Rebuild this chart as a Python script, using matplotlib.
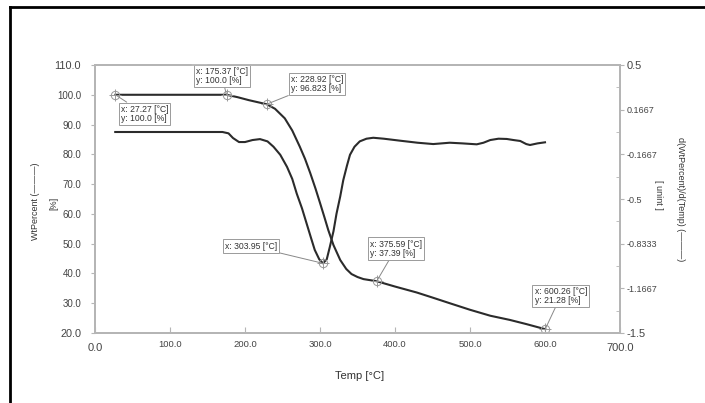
import matplotlib.pyplot as plt
from matplotlib.lines import Line2D

plt.rcParams['font.family'] = ['Liberation Sans', 'DejaVu Sans']

# weight percent curve (left axis)
tg_temp = [27.27, 100, 175.37, 190, 205, 228.92, 240, 253, 263, 273, 280, 287, 294,
           300, 306, 311, 318, 327, 335, 342, 350, 358, 375.59, 400, 429, 450, 473,
           500, 527, 553, 575, 600.26]
tg_wt = [100, 100, 100, 99.2, 98.2, 96.823, 95.3, 92.1, 88.0, 82.6, 78.5, 73.7, 68.5,
         63.7, 58.8, 54.6, 49.5, 44.5, 41.5, 39.8, 38.8, 38.1, 37.39, 35.6, 33.6, 31.9,
         30.0, 27.8, 25.8, 24.4, 23.0, 21.28]

# derivative curve (right axis)
dtg_temp = [27, 100, 170, 178, 184, 192, 200, 210, 220, 230, 238, 247, 256, 263, 269,
            276, 282, 288, 293, 299, 303.95, 309, 313, 318, 322, 327, 331, 336, 340,
            346, 353, 362, 371, 385, 407, 430, 451, 473, 490, 509, 518, 527, 538, 549,
            558, 567, 575, 580, 590, 600]
dtg_val = [0, 0, 0, -0.01, -0.045, -0.075, -0.075, -0.06, -0.053, -0.07, -0.11, -0.17,
           -0.26, -0.35, -0.46, -0.57, -0.68, -0.79, -0.88, -0.95, -0.98, -0.95, -0.86,
           -0.74, -0.61, -0.48, -0.36, -0.25, -0.17, -0.11, -0.07, -0.05, -0.043, -0.05,
           -0.065, -0.08, -0.09, -0.08, -0.085, -0.092, -0.08, -0.06, -0.05, -0.052,
           -0.06, -0.067, -0.09, -0.097, -0.085, -0.077]

# marked points: (x, y, label, box centre x, box centre y)
tg_marks = [
    (27.27, 100.0, 'x: 27.27 [°C]\ny: 100.0 [%]', 66, 93.6),
    (175.37, 100.0, 'x: 175.37 [°C]\ny: 100.0 [%]', 169, 106.3),
    (228.92, 96.823, 'x: 228.92 [°C]\ny: 96.823 [%]', 296, 103.6),
    (375.59, 37.39, 'x: 375.59 [°C]\ny: 37.39 [%]', 401, 48.3),
    (600.26, 21.28, 'x: 600.26 [°C]\ny: 21.28 [%]', 621, 32.4),
]
dtg_mark = (303.95, -0.98, 'x: 303.95 [°C]', 208, 49.2)

x_ticks = [0, 100, 200, 300, 400, 500, 600, 700]
y_ticks = [20, 30, 40, 50, 60, 70, 80, 90, 100, 110]
r_ticks = [0.5, 0.1667, -0.1667, -0.5, -0.8333, -1.1667, -1.5]
r_minor = [0.3333, 0.0, -0.3333, -0.6667, -1.0, -1.3333]

W, H = 705, 403
fig = plt.figure(figsize=(W / 100, H / 100), dpi=100)
ax = fig.add_axes([95 / W, 1 - 333 / H, 525 / W, 268 / H])
ax2 = ax.twinx()

lc = '#2b2b2b'
sc = '#b5b5b5'
ax.plot(tg_temp, tg_wt, color=lc, lw=1.5, zorder=3)
ax2.plot(dtg_temp, dtg_val, color=lc, lw=1.5, zorder=3)

ax.set_xlim(0, 700)
ax.set_ylim(20, 110)
ax2.set_ylim(-1.5, 0.5)

for a in (ax, ax2):
    for s in a.spines.values():
        s.set_color(sc)
        s.set_linewidth(1.3)

ax.set_xticks(x_ticks)
ax.set_xticklabels(['%.1f' % v for v in x_ticks])
ax.set_yticks(y_ticks)
ax.set_yticklabels(['%.1f' % v for v in y_ticks])
ax.tick_params(axis='x', direction='in', length=4, color=sc, labelsize=6.8,
               labelcolor='#444444', pad=5)
ax.tick_params(axis='y', direction='out', length=3, color=sc, labelsize=7,
               labelcolor='#444444', pad=7)
for lab in (ax.get_xticklabels()[0], ax.get_xticklabels()[-1]):
    lab.set_fontsize(8)
    lab.set_y(-0.012)
for lab in (ax.get_yticklabels()[0], ax.get_yticklabels()[-1]):
    lab.set_fontsize(7.8)

ax2.set_yticks(r_ticks)
ax2.set_yticklabels(['%g' % v for v in r_ticks])
ax2.set_yticks(r_minor, minor=True)
ax2.tick_params(axis='y', which='major', direction='out', length=3, color=sc,
                labelsize=6.5, labelcolor='#444444', pad=2)
ax2.tick_params(axis='y', which='minor', direction='in', length=3, color=sc)
for lab in (ax2.get_yticklabels()[0], ax2.get_yticklabels()[-1]):
    lab.set_fontsize(8)

# small gap in the top border
ax.plot([130, 147], [110, 110], color='white', lw=2.5, clip_on=False, zorder=5)

box = dict(boxstyle='square,pad=0.25', fc='white', ec='#9a9a9a', lw=0.7)
arr = dict(arrowstyle='-', color='#888888', lw=0.7, shrinkA=0, shrinkB=0)
for x, y, txt, bx, by in tg_marks:
    ax.plot(x, y, marker='o', ms=6, mfc='none', mec='#999999', mew=0.7, zorder=4)
    ax.plot(x, y, marker='+', ms=9, color='#999999', mew=0.7, zorder=4)
    ax.annotate(txt, xy=(x, y), xytext=(bx, by), fontsize=6.2, color='#333333',
                ha='center', va='center', multialignment='left', linespacing=1.05,
                bbox=box, arrowprops=arr, zorder=6)

x, y, txt, bx, by = dtg_mark
ax2.plot(x, y, marker='o', ms=6, mfc='none', mec='#999999', mew=0.7, zorder=4)
ax2.plot(x, y, marker='+', ms=9, color='#999999', mew=0.7, zorder=4)
ax2.annotate(txt, xy=(x, y), xytext=(bx, by), textcoords=ax.transData, fontsize=6.2,
             color='#333333', ha='center', va='center', bbox=box, arrowprops=arr,
             zorder=6)

fig.text(360 / W, 1 - 376 / H, 'Temp [°C]', fontsize=8, color='#333333',
         ha='center', va='center')
fig.text(36 / W, 1 - 201 / H, 'WtPercent (———)', fontsize=6.5, color='#333333',
         rotation=90, ha='center', va='center')
fig.text(54 / W, 1 - 203 / H, '[%]', fontsize=6.5, color='#333333',
         rotation=90, ha='center', va='center')
fig.text(680 / W, 1 - 199 / H, 'd(WtPercent)/d(Temp) (———)', fontsize=6.5,
         color='#333333', rotation=270, ha='center', va='center')
fig.text(659 / W, 1 - 195 / H, '[ unint ]', fontsize=6.5, color='#333333',
         rotation=270, ha='center', va='center')

# outer frame, left and top edges
fig.add_artist(Line2D([10 / W, 10 / W], [0, 1 - 7 / H], color='black', lw=2,
                      transform=fig.transFigure))
fig.add_artist(Line2D([10 / W, 1], [1 - 7 / H, 1 - 7 / H], color='black', lw=2,
                      transform=fig.transFigure))

fig.savefig('out.png', dpi=100)
